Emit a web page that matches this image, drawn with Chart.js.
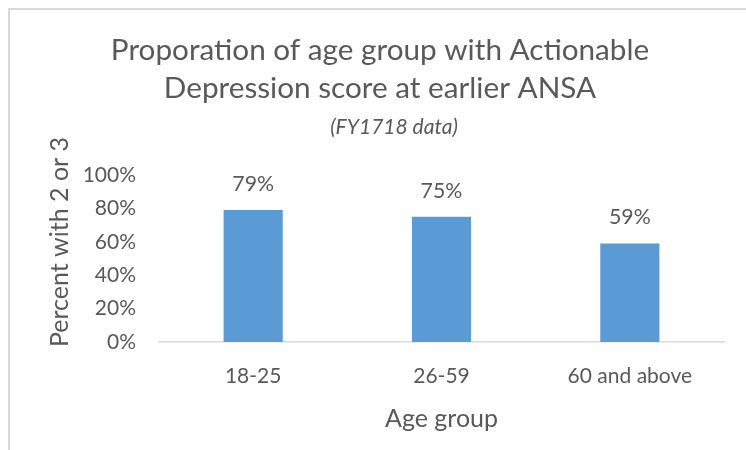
<!DOCTYPE html>
<html>
<head>
<meta charset="utf-8">
<script src="https://cdn.jsdelivr.net/npm/chart.js@4.4.0/dist/chart.umd.min.js"></script>
<style>
  html, body { margin: 0; padding: 0; background: #ffffff; }
  #wrap { width: 746px; height: 450px; position: relative; }
</style>
</head>
<body>
<div id="wrap"><canvas id="c" width="746" height="450"></canvas></div>
<script>
// ---- data ----
const categories = ["18-25", "26-59", "60 and above"];
const percentValues = [79, 75, 59];
const yTickValues = [0, 20, 40, 60, 80, 100];
const titleLines = ["Proporation of age group with Actionable", "Depression score at earlier ANSA"];
const subtitleText = "(FY1718 data)";
const xAxisTitle = "Age group";
const yAxisTitle = "Percent with 2 or 3";

const FONT = "Lato, 'Open Sans', sans-serif";
const TEXT = "#595959";

const framePlugin = {
  id: "frame",
  beforeDraw(chart) {
    const ctx = chart.ctx;
    ctx.save();
    ctx.fillStyle = "#ffffff";
    ctx.fillRect(0, 0, chart.width, chart.height);
    ctx.strokeStyle = "#D9D9D9";
    ctx.lineWidth = 2;
    ctx.strokeRect(9, 9, chart.width + 10, chart.height + 10);
    ctx.restore();
  }
};

const labelPlugin = {
  id: "barLabels",
  afterDatasetsDraw(chart) {
    const ctx = chart.ctx;
    const meta = chart.getDatasetMeta(0);
    ctx.save();
    ctx.font = "21.3px " + FONT;
    ctx.fillStyle = TEXT;
    ctx.textAlign = "center";
    ctx.textBaseline = "middle";
    meta.data.forEach((bar, i) => {
      ctx.fillText(percentValues[i] + "%", bar.x, bar.y - 26);
    });
    // subtitle
    ctx.font = "italic 21px " + FONT;
    ctx.fillText(subtitleText, 394, 127);
    // y axis title
    ctx.font = "25px " + FONT;
    ctx.translate(60, 242);
    ctx.rotate(-Math.PI / 2);
    ctx.fillText(yAxisTitle, 0, 0);
    ctx.restore();
  }
};

new Chart(document.getElementById("c"), {
  type: "bar",
  data: {
    labels: categories,
    datasets: [{
      data: percentValues,
      backgroundColor: "#5B9BD5",
      borderWidth: 0,
      barPercentage: 0.314,
      categoryPercentage: 1.0
    }]
  },
  options: {
    responsive: false,
    animation: false,
    devicePixelRatio: 1,
    layout: { padding: { left: 36, right: 22, top: 0, bottom: 16.4 } },
    plugins: {
      legend: { display: false },
      tooltip: { enabled: false },
      title: {
        display: true,
        text: titleLines,
        color: TEXT,
        font: { family: FONT, size: 29.7, weight: "normal", lineHeight: 1.28 },
        padding: { top: 31, bottom: 68 }
      }
    },
    scales: {
      x: {
        afterFit(scale) { scale.height = 91.6; },
        grid: { display: false, drawTicks: false },
        border: { display: true, color: "#D9D9D9", width: 1.5 },
        ticks: { color: TEXT, font: { family: FONT, size: 21 }, padding: 22, maxRotation: 0, autoSkip: false },
        title: {
          display: true, text: xAxisTitle, color: TEXT,
          font: { family: FONT, size: 25 }, padding: { top: 11, bottom: 0 }
        }
      },
      y: {
        min: 0, max: 100,
        afterFit(scale) { scale.width = 123; },
        afterBuildTicks(scale) { scale.ticks = yTickValues.map(v => ({ value: v })); },
        grid: { display: false, drawTicks: false },
        border: { display: false },
        ticks: {
          color: TEXT, font: { family: FONT, size: 21 }, padding: 23, autoSkip: false,
          callback: v => v + "%"
        }
      }
    }
  },
  plugins: [framePlugin, labelPlugin]
});
</script>
</body>
</html>
